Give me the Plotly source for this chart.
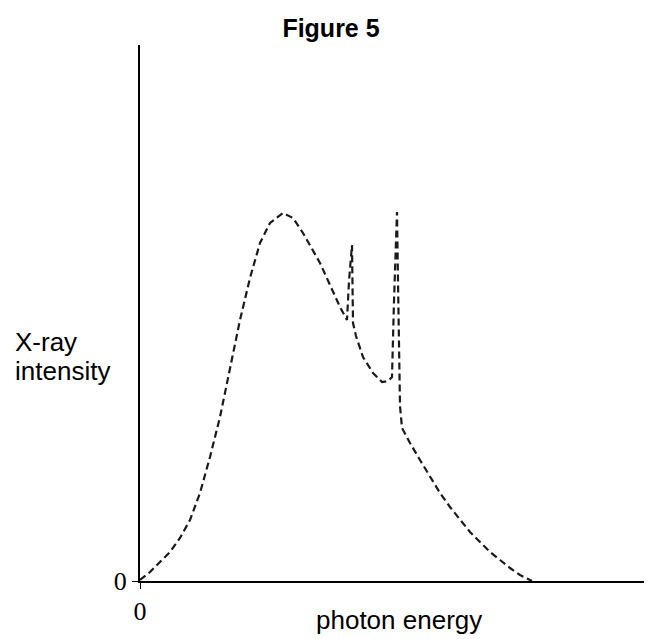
import plotly.graph_objects as go

# photon energy (arbitrary units) and X-ray intensity (arbitrary units)
energy = [0, 10, 20, 30, 40, 50, 60, 70, 80, 90, 100, 110, 120, 130, 143, 153, 163,
          180, 200, 207, 209, 212, 213, 216, 223, 233, 242, 248, 252, 254, 257, 258,
          260, 262, 270, 280, 290, 300, 310, 320, 330, 340, 350, 360, 370, 380, 392]
intensity = [1, 9, 19, 29, 43, 61, 88, 124, 164, 214, 261, 303, 338, 358, 368, 363, 348,
             318, 274, 261, 300, 336, 258, 245, 224, 208, 199, 200, 204, 280, 369, 300,
             175, 153, 138, 121, 104, 88, 74, 61, 49, 39, 29, 21, 13, 6, 0]

x_ticks = [0]
x_ticklabels = ["0"]
y_ticks = [0]
y_ticklabels = ["0"]

# the page body adds an 8px offset; the figure is sized so it ends at the window edge
W, H = 644, 631

fig = go.Figure()
fig.add_trace(go.Scatter(
    x=energy, y=intensity, mode="lines",
    line=dict(color="#1a1a1a", width=2.2, dash="7px,4px"),
    hoverinfo="skip", showlegend=False,
))

fig.update_layout(
    width=W, height=H, autosize=False,
    margin=dict(l=132, r=0, t=37, b=58, pad=0),
    paper_bgcolor="white", plot_bgcolor="white",
    title=dict(text="<b>Figure 5</b>", x=323 / W, xref="container", xanchor="center",
               y=1 - 20 / H, yref="container", yanchor="middle",
               font=dict(family="Liberation Sans", size=25, color="black")),
    xaxis=dict(range=[0, 512], showgrid=False, zeroline=False, showline=True,
               linecolor="black", linewidth=2, ticks="outside", ticklen=6,
               tickcolor="black", tickwidth=1, tickvals=x_ticks, ticktext=x_ticklabels,
               tickfont=dict(family="Liberation Serif", size=26, color="black")),
    yaxis=dict(range=[0, 536], showgrid=False, zeroline=False, showline=True,
               linecolor="black", linewidth=2, ticks="outside", ticklen=6,
               tickcolor="black", tickwidth=1, tickvals=y_ticks, ticktext=y_ticklabels,
               tickfont=dict(family="Liberation Serif", size=26, color="black")),
)

fig.add_annotation(text="photon energy", xref="paper", yref="paper",
                   x=(399 - 140) / 512, y=(581 - 620) / 536, xanchor="center", yanchor="middle",
                   showarrow=False, font=dict(family="Liberation Sans", size=26, color="black"))
fig.add_annotation(text="X-ray", xref="paper", yref="paper",
                   x=(13 - 140) / 512, y=(581 - 342) / 536, xanchor="left", yanchor="middle",
                   showarrow=False, font=dict(family="Liberation Sans", size=26, color="black"))
fig.add_annotation(text="intensity", xref="paper", yref="paper",
                   x=(13 - 140) / 512, y=(581 - 371) / 536, xanchor="left", yanchor="middle",
                   showarrow=False, font=dict(family="Liberation Sans", size=26, color="black"))

fig.write_html("out.html")
